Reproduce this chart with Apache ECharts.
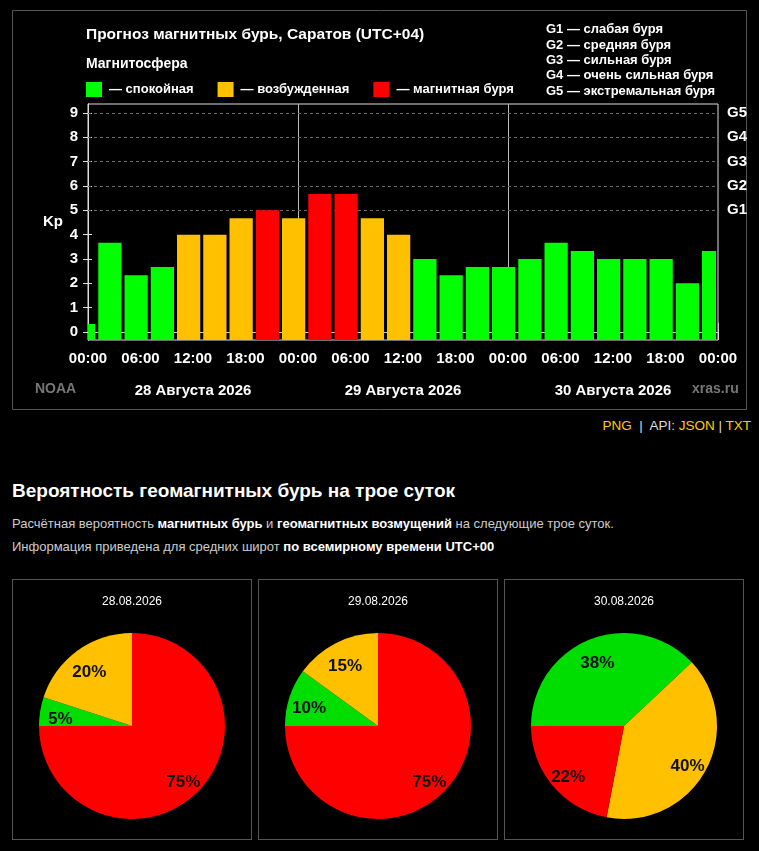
<!DOCTYPE html>
<html>
<head>
<meta charset="utf-8">
<title>Прогноз магнитных бурь, Саратов</title>
<script src="https://cdn.jsdelivr.net/npm/echarts@6/dist/echarts.min.js"></script>
<style>
  body { margin: 0; background: #000; font-family: 'Liberation Sans', Arial, sans-serif; color: #ccc; }
  #kpChart { position: absolute; left: 0; top: 0; width: 759px; height: 412px; }
  .links { position: absolute; right: 8px; top: 418px; font-size: 13.5px; color: #ddd; }
  .links a { color: #fc0; text-decoration: none; }
  h2 { position: absolute; left: 12px; top: 480px; margin: 0; font-size: 19px; color: #fff; }
  .info { position: absolute; left: 12px; top: 512px; margin: 0; font-size: 13px; line-height: 23px; }
  .info b { color: #fff; }
  .pie { position: absolute; top: 579px; width: 240px; height: 261px; border: 1px solid #555; box-sizing: border-box; }
</style>
</head>
<body>
<div id="kpChart"></div>
<div class="links"><a href="#">PNG</a> &nbsp;|&nbsp; API: <a href="#">JSON</a> | <a href="#">TXT</a></div>
<h2>Вероятность геомагнитных бурь на трое суток</h2>
<p class="info">Расчётная вероятность <b>магнитных бурь</b> и <b>геомагнитных возмущений</b> на следующие трое суток.<br>
Информация приведена для средних широт <b>по всемирному времени UTC+00</b></p>
<div class="pie" id="pie0" style="left:12px"></div>
<div class="pie" id="pie1" style="left:258px"></div>
<div class="pie" id="pie2" style="left:504px"></div>
<script>
    // прогноз Kp по трёхчасовым интервалам (местное время, первый интервал начинается в 22:00 27.08)
    var kpValues = [0.33, 3.67, 2.33, 2.67, 4, 4, 4.67, 5, 4.67,
                    5.67, 5.67, 4.67, 4, 3, 2.33, 2.67, 2.67,
                    3, 3.67, 3.33, 3, 3, 3, 2, 3.33];
    var firstBlockStart = -2;
    var blockHours = 3;
    var totalHours = 72;
    var dayLabels = ['28 Августа 2026', '29 Августа 2026', '30 Августа 2026'];
    var kpTicks = [0, 1, 2, 3, 4, 5, 6, 7, 8, 9];
    var gLevels = [5, 6, 7, 8, 9];
    var gLabels = ['G1', 'G2', 'G3', 'G4', 'G5'];
    var gScale = ['G1 — слабая буря', 'G2 — средняя буря', 'G3 — сильная буря',
                  'G4 — очень сильная буря', 'G5 — экстремальная буря'];
    var levelNames = ['— спокойная', '— возбужденная', '— магнитная буря'];
    var levelColors = ['#00ff00', '#ffc000', '#ff0000'];
    var levelThresholds = [4, 5];

    // вероятности на трое суток
    var pieDates = ['28.08.2026', '29.08.2026', '30.08.2026'];
    var quietProb = [5, 10, 38];
    var activeProb = [20, 15, 40];
    var stormProb = [75, 75, 22];
    var pieColors = ['#00dd00', '#ffc000', '#ff0000'];

    var kpMin = -0.33, kpMax = 9.37;
    var font = "'Liberation Sans', Arial, sans-serif";

    function levelOf(kp) {
        if (kp >= levelThresholds[1]) return 2;
        if (kp >= levelThresholds[0]) return 1;
        return 0;
    }

    var barData = [[], [], []];
    kpValues.forEach(function (kp, i) {
        var start = Math.max(firstBlockStart + i * blockHours, 0);
        var end = Math.min(firstBlockStart + (i + 1) * blockHours, totalHours);
        barData[levelOf(kp)].push([start, end, kp]);
    });

    function renderBar(params, api) {
        var lo = api.coord([api.value(0), kpMin]);
        var hi = api.coord([api.value(1), api.value(2)]);
        var padL = api.value(0) > 0 ? 1.5 : 0;
        var padR = api.value(1) < totalHours ? 1.5 : 2;
        return {
            type: 'rect',
            shape: { x: lo[0] + padL, y: hi[1], width: hi[0] - lo[0] - padL - padR, height: lo[1] - hi[1] },
            style: { fill: api.visual('color') }
        };
    }

    function hhmm(v) {
        var h = v % 24;
        return (h < 10 ? '0' : '') + h + ':00';
    }

    var boldWhite = { color: '#fff', fontSize: 15, fontWeight: 'bold' };

    var series = levelNames.map(function (name, i) {
        return {
            name: name,
            type: 'custom',
            renderItem: renderBar,
            itemStyle: { color: levelColors[i] },
            encode: { x: [0, 1], y: 2 },
            data: barData[i],
            silent: true,
            animation: false
        };
    });
    series[0].markLine = {
        silent: true,
        symbol: 'none',
        z: 1,
        animation: false,
        label: { show: false },
        data: [24, 48].map(function (h) {
            return { xAxis: h, lineStyle: { color: '#bbb', type: 'solid', width: 1 } };
        }).concat(gLevels.map(function (v) {
            return { yAxis: v, lineStyle: { color: '#6a6a6a', type: [3, 3], width: 1 } };
        }))
    };

    var kpChart = echarts.init(document.getElementById('kpChart'));
    kpChart.setOption({
        backgroundColor: '#000',
        textStyle: { fontFamily: font },
        title: [{
            text: 'Прогноз магнитных бурь, Саратов (UTC+04)',
            left: 86, top: 27, padding: 0,
            textStyle: { color: '#fff', fontSize: 15.5, fontWeight: 'bold' }
        }, {
            text: 'Магнитосфера',
            left: 86, top: 57, padding: 0,
            textStyle: { color: '#fff', fontSize: 14, fontWeight: 'bold' }
        }, {
            text: gScale.join('\n'),
            left: 546, top: 22, padding: 0,
            textStyle: { color: '#fff', fontSize: 13, fontWeight: 'bold', lineHeight: 15.4 }
        }],
        legend: {
            left: 86, top: 82, padding: 0,
            icon: 'rect', itemWidth: 16, itemHeight: 15, itemGap: 24,
            selectedMode: false,
            textStyle: { color: '#fff', fontSize: 13, fontWeight: 'bold', padding: [0, 0, 0, 2] },
            data: levelNames
        },
        grid: {
            left: 88, top: 104, width: 630, height: 236,
            show: true, borderColor: '#ddd', borderWidth: 1
        },
        xAxis: [{
            type: 'value', min: 0, max: totalHours, interval: 6,
            axisLine: { lineStyle: { color: '#ddd' } },
            axisTick: { length: 8, lineStyle: { color: '#ddd' } },
            minorTick: { show: true, splitNumber: 2, length: 4, lineStyle: { color: '#ddd' } },
            axisLabel: Object.assign({ margin: 11, formatter: hhmm, showMinLabel: true, showMaxLabel: true }, boldWhite),
            splitLine: { show: false }
        }, {
            type: 'value', min: 0, max: totalHours, position: 'bottom', offset: 39,
            axisLine: { lineStyle: { color: '#ccc' } },
            axisTick: { inside: true, length: 9, customValues: [0, 24, 48, 72], lineStyle: { color: '#ccc' } },
            axisLabel: Object.assign({
                margin: 4,
                customValues: [12, 36, 60],
                formatter: function (v) { return dayLabels[(v - 12) / 24]; }
            }, boldWhite),
            splitLine: { show: false }
        }],
        yAxis: [{
            type: 'value', min: kpMin, max: kpMax,
            name: 'Kp', nameLocation: 'middle', nameRotate: 0, nameGap: 25,
            nameTextStyle: boldWhite,
            axisLine: { show: true, lineStyle: { color: '#ddd' } },
            axisTick: { show: true, length: 5, customValues: kpTicks, lineStyle: { color: '#ddd' } },
            axisLabel: Object.assign({ margin: 10, customValues: kpTicks }, boldWhite),
            splitLine: { show: false }
        }, {
            type: 'value', min: kpMin, max: kpMax, position: 'right',
            axisLine: { show: true, lineStyle: { color: '#ddd' } },
            axisTick: { show: true, length: 4, customValues: kpTicks, lineStyle: { color: '#ddd' } },
            axisLabel: Object.assign({
                margin: 9,
                customValues: gLevels,
                formatter: function (v) { return gLabels[gLevels.indexOf(v)]; }
            }, boldWhite),
            splitLine: { show: false }
        }],
        graphic: [
            { type: 'rect', silent: true, shape: { x: 12.5, y: 10.5, width: 734, height: 399 }, style: { fill: 'none', stroke: '#555', lineWidth: 1 } },
            { type: 'text', silent: true, x: 35, y: 389, style: { text: 'NOAA', fill: '#777', font: 'bold 14px ' + font, verticalAlign: 'middle' } },
            { type: 'text', silent: true, x: 692, y: 389, style: { text: 'xras.ru', fill: '#777', font: 'bold 14px ' + font, verticalAlign: 'middle' } }
        ],
        series: series
    });

    pieDates.forEach(function (date, i) {
        var chart = echarts.init(document.getElementById('pie' + i));
        var data = [
            { name: 'спокойная', value: quietProb[i] },
            { name: 'возбужденная', value: activeProb[i] },
            { name: 'магнитная буря', value: stormProb[i] }
        ];
        chart.setOption({
            textStyle: { fontFamily: font },
            color: pieColors,
            title: {
                text: date, left: 'center', top: 16, padding: 0,
                textStyle: { color: '#fff', fontSize: 12, fontWeight: 'normal' }
            },
            series: [{
                type: 'pie', center: [119, 146], radius: 93,
                startAngle: 180, clockwise: true, silent: true, animation: false,
                itemStyle: { borderWidth: 0 },
                label: { show: false }, labelLine: { show: false },
                data: data
            }, {
                // невидимое кольцо только для подписей (ближе к краю круга, чуть ниже центра сектора)
                type: 'pie', center: [119, 146], radius: [46, 93],
                startAngle: 180, clockwise: true, silent: true, animation: false,
                itemStyle: { color: 'transparent', borderWidth: 0 },
                label: {
                    show: true, position: 'inside', formatter: '\n{c}%',
                    color: '#111', fontSize: 17, fontWeight: 'bold', lineHeight: 10
                },
                labelLine: { show: false },
                data: data
            }]
        });
    });
</script>
</body>
</html>
